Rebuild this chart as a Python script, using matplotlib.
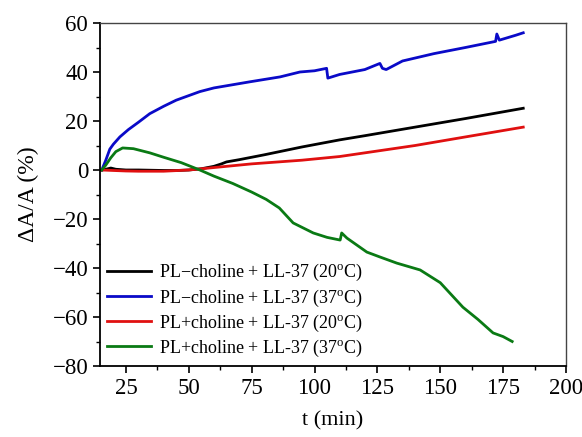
import matplotlib

matplotlib.use("Agg")
import matplotlib.pyplot as plt
from matplotlib.ticker import MultipleLocator

# values (t in min, dA/A in %)
t_black = [15.4, 17, 19, 21, 25, 30, 40, 45, 50, 55, 60, 63, 65, 70, 80, 95, 110, 120, 140, 160, 183]
y_black = [0, 0.3, 0.8, 0.3, 0, 0, -0.2, -0.2, 0, 0.5, 1.5, 2.5, 3.3, 4.2, 6.2, 9.4, 12.3, 14, 17.5, 21, 25.2]

t_blue = [15.4, 17, 18.6, 20, 22.6, 26, 30, 34.5, 40, 45, 54.4, 60, 74.3, 86.3, 94.2, 100, 104.8,
          105.3, 110, 120, 126, 127, 128.5, 135, 147.5, 160, 172, 172.5, 173.5, 180, 183]
y_blue = [0, 4, 8.5, 10.5, 13.5, 16.5, 19.5, 23, 26, 28.5, 32, 33.5, 36, 38, 40, 40.5, 41.5,
          37.5, 39, 41, 43.5, 41.5, 41, 44.5, 47.5, 50, 52.5, 55.5, 53, 55, 56]

t_red = [15.4, 20, 25, 30, 40, 50, 60, 75, 95, 110, 120, 140, 160, 183]
y_red = [0, -0.2, -0.4, -0.5, -0.5, 0, 1, 2.5, 4, 5.5, 7, 10, 13.5, 17.5]

t_green = [15.4, 17, 19, 21, 23.7, 28, 34.5, 40, 47, 54.4, 60, 67.5, 75, 80.8, 86, 91.5, 99.5,
           105, 110.2, 110.8, 112.9, 120.8, 126, 132.7, 142, 150, 159, 165, 171, 175, 178.6]
y_green = [0, 2, 5, 7.5, 9, 8.7, 7, 5.2, 3, 0, -2.5, -5.5, -9, -12, -15.5, -21.6, -25.7,
           -27.5, -28.6, -25.7, -27.8, -33.5, -35.5, -38, -40.8, -46, -56, -61, -66.5, -68, -70]

labels = [
    "PL\u2212choline + LL-37 (20$^{\\rm o}$C)",
    "PL\u2212choline + LL-37 (37$^{\\rm o}$C)",
    "PL+choline + LL-37 (20$^{\\rm o}$C)",
    "PL+choline + LL-37 (37$^{\\rm o}$C)",
]

plt.rcParams.update({
    "font.family": "Liberation Serif",
    "mathtext.fontset": "custom",
    "mathtext.rm": "Liberation Serif",
})

fig = plt.figure(figsize=(5.82, 4.37), dpi=100)
ax = fig.add_axes([100 / 582, 1 - 366 / 437, 466 / 582, 343 / 437])

lw = 2.0
ax.plot(t_black, y_black, color="black", lw=lw, label=labels[0])
ax.plot(t_blue, y_blue, color="#0a0ac8", lw=lw, label=labels[1])
ax.plot(t_red, y_red, color="#e01010", lw=lw, label=labels[2])
ax.plot(t_green, y_green, color="#0a7a14", lw=lw, label=labels[3])

ax.set_xlim(14.7, 200)
ax.set_ylim(-80, 60)
ax.xaxis.set_minor_locator(MultipleLocator(12.5))
ax.yaxis.set_major_locator(MultipleLocator(20))
ax.yaxis.set_minor_locator(MultipleLocator(10))
ax.set_xticks([25, 50, 75, 100, 125, 150, 175, 200])
ax.tick_params(which="both", direction="out", top=False, right=False, labelsize=16.5)
ax.tick_params(which="major", length=5, width=1.2)
ax.tick_params(which="minor", length=3, width=1.0)
for s in ["left", "bottom"]:
    ax.spines[s].set_linewidth(1.3)
for s in ["top", "right"]:
    ax.spines[s].set_linewidth(1.0)
    ax.spines[s].set_color("#444444")

ax.set_xlabel("t (min)", fontsize=16, labelpad=9)
ax.set_ylabel("\u0394A/A (%)", fontsize=17, labelpad=10)

ax.legend(loc="lower left", frameon=False, fontsize=13, handlelength=2.4,
          borderaxespad=0.0, borderpad=0.4, labelspacing=0.22, handletextpad=0.45)

fig.savefig("out.png", dpi=100)
